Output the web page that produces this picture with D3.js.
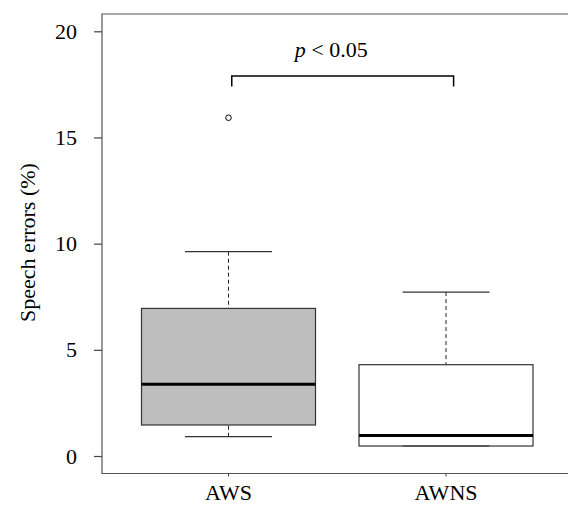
<!DOCTYPE html>
<html>
<head>
<meta charset="utf-8">
<script src="https://cdn.jsdelivr.net/npm/d3@7"></script>
<style>
html,body{margin:0;padding:0;background:#fff;}
text{font-family:"Liberation Serif","Times New Roman",serif;}
</style>
</head>
<body>
<svg id="chart" width="568" height="505"></svg>
<script>
const categories = ["AWS", "AWNS"];
const lowerWhisker = [0.91, 0.47];
const q1 = [1.46, 0.47];
const median = [3.38, 0.96];
const q3 = [6.95, 4.30];
const upperWhisker = [9.62, 7.72];
const outliers = [[15.93], []];
const boxFill = ["#bebebe", "#ffffff"];
const yTicks = [0, 5, 10, 15, 20];
const bracketValue = 17.9;
const bracketDrop = 0.5;
const bracketFrom = 1.015, bracketTo = 2.035;

(function () {
const svg = d3.select("#chart");
const mLeft = 102, mTop = 14, mBottom = 473.5, mRight = 568;
const FS = 22;

const y = d3.scaleLinear().domain([0, 20]).range([456, 31.3]);
const x = d3.scaleLinear().domain([1, 2]).range([228.5, 446]);
const boxHalf = 0.4, capHalf = 0.2;

// frame (left, top, bottom)
svg.append("path")
  .attr("d", `M${mRight},${mTop}H${mLeft}V${mBottom}H${mRight}`)
  .attr("fill", "none").attr("stroke", "#555").attr("stroke-width", 1.2);

// y axis ticks
const yAxis = d3.axisLeft(y).tickValues(yTicks).tickSize(8).tickPadding(17);
const ga = svg.append("g").attr("transform", `translate(${mLeft},0)`).call(yAxis);
ga.attr("font-family", null).attr("font-size", null);
ga.select(".domain").remove();
ga.selectAll("line").attr("stroke", "#444").attr("stroke-width", 1.2);
ga.selectAll("text").attr("font-size", FS).attr("fill", "#000");

// x axis ticks and labels
const gx = svg.append("g");
categories.forEach((c, i) => {
  const cx = x(i + 1);
  gx.append("line").attr("x1", cx).attr("x2", cx).attr("y1", mBottom).attr("y2", mBottom + 3)
    .attr("stroke", "#444").attr("stroke-width", 1);
  gx.append("text").attr("x", cx).attr("y", 500).attr("text-anchor", "middle")
    .attr("font-size", FS).text(c);
});

// y label
svg.append("text").attr("transform", `translate(35,242.5) rotate(-90)`)
  .attr("text-anchor", "middle").attr("font-size", FS).text("Speech errors (%)");

// boxes
categories.forEach((c, i) => {
  const v = i + 1;
  const g = svg.append("g");
  g.append("line").attr("x1", x(v)).attr("x2", x(v)).attr("y1", y(upperWhisker[i])).attr("y2", y(q3[i]))
    .attr("stroke", "#222").attr("stroke-width", 1).attr("stroke-dasharray", "4,3");
  g.append("line").attr("x1", x(v)).attr("x2", x(v)).attr("y1", y(lowerWhisker[i])).attr("y2", y(q1[i]))
    .attr("stroke", "#222").attr("stroke-width", 1).attr("stroke-dasharray", "4,3");
  g.append("rect").attr("x", x(v - boxHalf)).attr("y", y(q3[i]))
    .attr("width", x(v + boxHalf) - x(v - boxHalf)).attr("height", y(q1[i]) - y(q3[i]))
    .attr("fill", boxFill[i]).attr("stroke", "#333").attr("stroke-width", 1.2);
  [upperWhisker[i], lowerWhisker[i]].forEach(w => {
    g.append("line").attr("x1", x(v - capHalf)).attr("x2", x(v + capHalf)).attr("y1", y(w)).attr("y2", y(w))
      .attr("stroke", "#333").attr("stroke-width", 1.2);
  });
  g.append("line").attr("x1", x(v - boxHalf)).attr("x2", x(v + boxHalf)).attr("y1", y(median[i])).attr("y2", y(median[i]))
    .attr("stroke", "#000").attr("stroke-width", 3);
  outliers[i].forEach(o => {
    g.append("circle").attr("cx", x(v)).attr("cy", y(o)).attr("r", 2.8)
      .attr("fill", "none").attr("stroke", "#000").attr("stroke-width", 1);
  });
});

// significance bracket
const by = y(bracketValue), bd = y(bracketValue - bracketDrop);
svg.append("path")
  .attr("d", `M${x(bracketFrom)},${bd}V${by}H${x(bracketTo)}V${bd}`)
  .attr("fill", "none").attr("stroke", "#000").attr("stroke-width", 1.5);
const t = svg.append("text").attr("x", 331.3).attr("y", 56.5)
  .attr("text-anchor", "middle").attr("font-size", FS);
t.append("tspan").attr("font-style", "italic").text("p");
t.append("tspan").text(" < 0.05");
})();
</script>
</body>
</html>
